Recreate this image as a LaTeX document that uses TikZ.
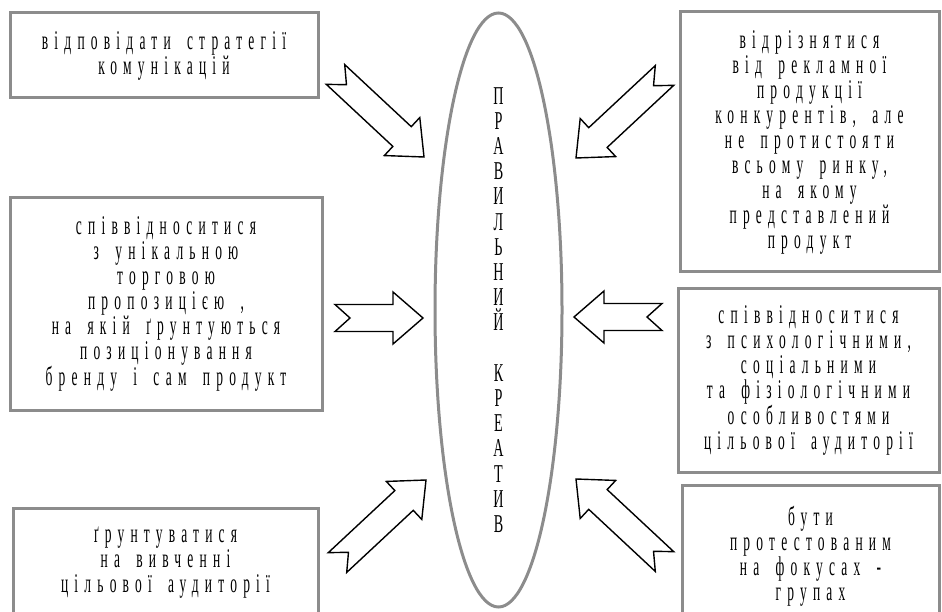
\documentclass[tikz,border=0pt]{standalone}
\usepackage{fontspec}
\setmainfont{Liberation Serif}
\newfontfamily\narrowfont[FakeStretch=0.5,LetterSpace=23,WordSpace=1.7]{Liberation Serif}
\newfontfamily\titlefont[FakeStretch=0.55]{Liberation Serif}
\usetikzlibrary{shapes.geometric}
\definecolor{frameGray}{HTML}{8C8C8C}
\tikzset{
	factor/.style={draw=frameGray, line width=3pt, fill=white, inner sep=0pt,
		align=center, font=\narrowfont\fontsize{27}{25}\selectfont},
	goal/.style={draw=frameGray, line width=3pt, ellipse, inner sep=0pt},
	arrowline/.style={draw=black, line width=1.4pt, fill=white, line join=miter},
	pics/fatarrow/.style={code={
			\draw[arrowline] (0,0) -- (-30,26) -- (-30,13.5) -- (-#1,13.5) -- ({15-#1},0)
			-- (-#1,-13.5) -- (-30,-13.5) -- (-30,-26) -- cycle;}}
}

\begin{document}
\begin{tikzpicture}[x=1pt,y=-1pt]
	\useasboundingbox (0,0) rectangle (942,612);
	\clip (0,0) rectangle (942,612);
	% factors
	\node[factor, minimum width=308, minimum height=85] (f1) at (164,55.5)
		{відповідати стратегії\\комунікацій};
	\node[factor, minimum width=259, minimum height=260] (f2) at (809.5,142)
		{відрізнятися\\від рекламної\\продукції\\конкурентів, але\\не протистояти\\всьому ринку,\\на якому\\представлений\\продукт};
	\node[factor, minimum width=312, minimum height=212] (f3) at (166,304)
		{співвідноситися\\з унікальною\\торговою\\пропозицією ,\\на якій ґрунтуються\\позиціонування\\бренду і сам продукт};
	\node[factor, minimum width=261, minimum height=183] (f4) at (808.5,380.5)
		{співвідноситися\\з психологічними,\\соціальними\\та фізіологічними\\особливостями\\цільової аудиторії};
	\node[factor, minimum width=305, minimum height=110] (f5) at (165.5,563)
		{ґрунтуватися\\на вивченні\\цільової аудиторії};
	\node[factor, minimum width=257, minimum height=142] (f6) at (810.5,556)
		{бути\\протестованим\\на фокусах -\\групах};
	% centre
	\node[goal, minimum width=127, minimum height=594] (goal) at (498.5,310) {};
	\node[align=center, font=\titlefont\fontsize{25.7}{25.2}\selectfont] (title) at (goal.center)
		{П\\Р\\А\\В\\И\\Л\\Ь\\Н\\И\\Й\\~\\К\\Р\\Е\\А\\Т\\И\\В};
	% arrows
	\coordinate (a1) at (424,157);
	\coordinate (a2) at (576,158);
	\coordinate (a3) at (423,318);
	\coordinate (a4) at (574,317);
	\coordinate (a5) at (426,480);
	\coordinate (a6) at (576,479);
	\pic[rotate=-43] at (a1) {fatarrow=121};
	\pic[rotate=-137] at (a2) {fatarrow=121};
	\pic at (a3) {fatarrow=88};
	\pic[rotate=180] at (a4) {fatarrow=88};
	\pic[rotate=43] at (a5) {fatarrow=121};
	\pic[rotate=137] at (a6) {fatarrow=121};
\end{tikzpicture}
\end{document}
